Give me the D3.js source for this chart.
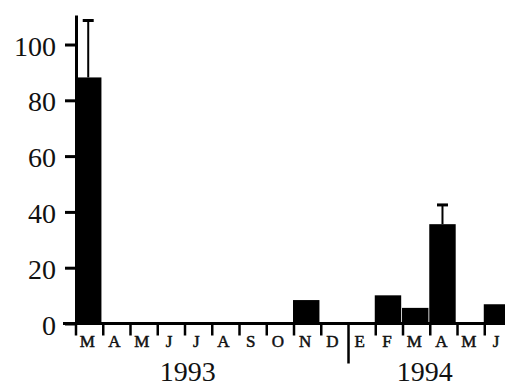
<!DOCTYPE html>
<html>
<head>
<meta charset="utf-8">
<script src="https://cdn.jsdelivr.net/npm/d3@7"></script>
<style>
  body { margin: 0; background: #fff; }
  svg text { font-family: "Liberation Serif", "Times New Roman", serif; fill: #111; }
</style>
</head>
<body>
<div id="chart"></div>
<script>
// Data
const months = ['M', 'A', 'M', 'J', 'J', 'A', 'S', 'O', 'N', 'D', 'E', 'F', 'M', 'A', 'M', 'J']
const values = [88.2, 0, 0, 0, 0, 0, 0, 0, 8.4, 0, 0, 10.1, 5.6, 35.6, 0, 6.9]
const errorTops = [108.6, null, null, null, null, null, null, null, null, null, null, null, null, 42.5, null, null]
const yTicks = [0, 20, 40, 60, 80, 100]
const years = ['1993', '1994']

function draw() {
    let dimensions = {
        width: 505,
        height: 387,
        margin: { top: 15.5, bottom: 63.5, left: 75, right: -5.2 }
    }
    dimensions.ctrWidth = dimensions.width - dimensions.margin.left - dimensions.margin.right
    dimensions.ctrHeight = dimensions.height - dimensions.margin.top - dimensions.margin.bottom

    const svg = d3.select('#chart')
        .append('svg')
        .attr('width', dimensions.width)
        .attr('height', dimensions.height)

    const ctr = svg.append('g')
        .attr('transform', `translate(${dimensions.margin.left}, ${dimensions.margin.top})`)

    // Scales
    const idx = months.map((d, i) => i)
    const xScale = d3.scaleBand()
        .domain(idx)
        .range([0, dimensions.ctrWidth])
        .paddingInner(0.03)
        .paddingOuter(0)

    const yScale = d3.scaleLinear()
        .domain([0, 110.4])
        .range([dimensions.ctrHeight, 0])

    const step = xScale.step()

    // Bars
    ctr.selectAll('rect.bar')
        .data(idx.filter(i => values[i] > 0))
        .join('rect')
        .attr('class', 'bar')
        .attr('x', i => xScale(i))
        .attr('y', i => yScale(values[i]))
        .attr('width', xScale.bandwidth())
        .attr('height', i => yScale(0) - yScale(values[i]))
        .attr('fill', '#000')

    // Error bars (upper only)
    const errs = idx.filter(i => errorTops[i] != null)
    ctr.selectAll('line.err')
        .data(errs)
        .join('line')
        .attr('class', 'err')
        .attr('x1', i => xScale(i) + xScale.bandwidth() / 2)
        .attr('x2', i => xScale(i) + xScale.bandwidth() / 2)
        .attr('y1', i => yScale(values[i]))
        .attr('y2', i => yScale(errorTops[i]))
        .attr('stroke', '#000')
        .attr('stroke-width', 2)
    ctr.selectAll('line.cap')
        .data(errs)
        .join('line')
        .attr('class', 'cap')
        .attr('x1', i => xScale(i) + xScale.bandwidth() / 2 - 5.5)
        .attr('x2', i => xScale(i) + xScale.bandwidth() / 2 + 5.5)
        .attr('y1', i => yScale(errorTops[i]))
        .attr('y2', i => yScale(errorTops[i]))
        .attr('stroke', '#000')
        .attr('stroke-width', 3)

    // y Axis
    const yAxis = d3.axisLeft(yScale)
        .tickValues(yTicks)
        .tickSize(10)
        .tickPadding(9)
    const yAxisGroup = ctr.append('g')
        .call(yAxis)
        .attr('font-family', null)
        .attr('font-size', null)
    yAxisGroup.select('.domain').remove()
    yAxisGroup.selectAll('.tick line')
        .attr('stroke', '#000')
        .attr('stroke-width', 3)
    yAxisGroup.selectAll('.tick text')
        .attr('dy', '0.38em')
        .style('font-family', 'Liberation Serif')
        .style('font-size', '28px')
        .style('fill', '#111')

    ctr.append('line')
        .attr('x1', 1.5).attr('x2', 1.5)
        .attr('y1', 0).attr('y2', yScale(0))
        .attr('stroke', '#000')
        .attr('stroke-width', 3)

    // x baseline
    ctr.append('line')
        .attr('x1', -12).attr('x2', dimensions.ctrWidth)
        .attr('y1', yScale(0)).attr('y2', yScale(0))
        .attr('stroke', '#000')
        .attr('stroke-width', 3)

    // Month ticks and labels
    const xAxisGroup = ctr.append('g')
        .attr('transform', `translate(0, ${yScale(0)})`)
    xAxisGroup.selectAll('line.mtick')
        .data(idx)
        .join('line')
        .attr('class', 'mtick')
        .attr('x1', i => i * step + 1)
        .attr('x2', i => i * step + 1)
        .attr('y1', 0)
        .attr('y2', i => i === 10 ? 40 : 12)
        .attr('stroke', '#000')
        .attr('stroke-width', 2.5)
    xAxisGroup.selectAll('text.month')
        .data(idx)
        .join('text')
        .attr('class', 'month')
        .attr('x', i => xScale(i) + xScale.bandwidth() / 2 - 1)
        .attr('y', 23.5)
        .attr('text-anchor', 'middle')
        .style('font-family', 'Liberation Serif')
        .style('font-size', '17px')
        .attr('stroke', '#111')
        .attr('stroke-width', 0.5)
        .text(i => months[i])

    // Year labels
    xAxisGroup.selectAll('text.year')
        .data(years)
        .join('text')
        .attr('class', 'year')
        .attr('x', (d, i) => i === 0 ? 4.1 * step + 1 : 12.8 * step + 1)
        .attr('y', 57)
        .attr('text-anchor', 'middle')
        .style('font-family', 'Liberation Serif')
        .style('font-size', '28px')
        .text(d => d)
}

draw()
</script>
</body>
</html>
